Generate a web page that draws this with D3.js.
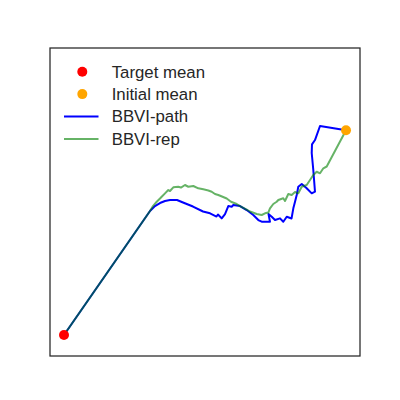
<!DOCTYPE html>
<html>
<head>
<meta charset="UTF-8">
<title>BBVI paths</title>
<style>
  body { margin: 0; background: #fff; }
  svg { display: block; }
  .legend text { font-family: "Liberation Sans", Arial, sans-serif; font-size: 16.8px; fill: #262626; }
</style>
</head>
<body>
<svg width="400" height="400"></svg>
<script src="https://d3js.org/d3.v7.min.js"></script>
<script>
// means
var targetMean = [0, 0];
var initialMean = [5.0, 3.63];

// BBVI-path, from the target back to the initial mean
var pathX = [0, 1.525, 1.613, 1.702, 1.791, 1.879, 2.004, 2.110, 2.287, 2.465, 2.589, 2.704, 2.730, 2.796, 2.855,
  2.913, 2.973, 3.002, 3.062, 3.121, 3.239, 3.356, 3.445, 3.505, 3.652, 3.626, 3.683, 3.741, 3.830, 3.888,
  3.949, 4.034, 4.066, 4.096, 4.126, 4.154, 4.215, 4.303, 4.392, 4.450, 4.420, 4.392, 4.397, 4.450, 4.539, 5.0];
var pathY = [0, 2.199, 2.287, 2.340, 2.376, 2.394, 2.394, 2.349, 2.278, 2.190, 2.158, 2.101, 2.137, 2.069, 2.145,
  2.287, 2.275, 2.305, 2.296, 2.287, 2.216, 2.128, 2.039, 2.009, 2.009, 2.145, 2.098, 2.039, 2.069, 2.009,
  2.098, 2.066, 2.246, 2.363, 2.482, 2.629, 2.677, 2.601, 2.512, 2.541, 2.926, 3.227, 3.381, 3.457, 3.706, 3.63];

// BBVI-rep
var repX = [0, 1.525, 1.578, 1.644, 1.702, 1.732, 1.791, 1.849, 1.879, 1.938, 2.027, 2.074, 2.145, 2.204, 2.293,
  2.381, 2.470, 2.559, 2.619, 2.677, 2.736, 2.801, 2.885, 2.961, 3.062, 3.121, 3.239, 3.298,
  3.417, 3.505, 3.564, 3.622, 3.652, 3.711, 3.771, 3.800, 3.888, 3.918, 3.977, 4.037, 4.096, 4.154, 4.215,
  4.303, 4.362, 4.420, 4.480, 4.539, 4.598, 4.658, 5.0];
var repY = [0, 2.199, 2.287, 2.363, 2.420, 2.452, 2.512, 2.571, 2.553, 2.619, 2.629, 2.615, 2.660, 2.629, 2.642,
  2.601, 2.583, 2.562, 2.541, 2.500, 2.482, 2.456, 2.420, 2.363, 2.323, 2.287, 2.225, 2.190,
  2.145, 2.128, 2.158, 2.172, 2.246, 2.323, 2.363, 2.394, 2.424, 2.376, 2.500, 2.482, 2.535, 2.512, 2.629,
  2.660, 2.748, 2.837, 2.895, 2.867, 2.956, 2.988, 3.63];

var legendLabels = ["Target mean", "Initial mean", "BBVI-path", "BBVI-rep"];

var svg = d3.select("svg");
var axLeft = 50, axRight = 360, axTop = 48, axBottom = 356;

var x = d3.scaleLinear().domain([-0.248, 5.248]).range([axLeft, axRight]);
var y = d3.scaleLinear().domain([-0.372, 5.089]).range([axBottom, axTop]);

var line = d3.line()
  .x(function(d) { return x(d[0]); })
  .y(function(d) { return y(d[1]); });

var pathData = d3.zip(pathX, pathY);
var repData = d3.zip(repX, repY);

svg.append("path")
  .datum(pathData)
  .attr("d", line)
  .attr("fill", "none")
  .attr("stroke", "blue")
  .attr("stroke-width", 2)
  .attr("stroke-linejoin", "round");

svg.append("path")
  .datum(repData)
  .attr("d", line)
  .attr("fill", "none")
  .attr("stroke", "green")
  .attr("stroke-opacity", 0.6)
  .attr("stroke-width", 2)
  .attr("stroke-linejoin", "round");

svg.append("circle")
  .attr("cx", x(targetMean[0])).attr("cy", y(targetMean[1]))
  .attr("r", 5).attr("fill", "red");
svg.append("circle")
  .attr("cx", x(initialMean[0])).attr("cy", y(initialMean[1]))
  .attr("r", 5).attr("fill", "orange");

// frame
svg.append("rect")
  .attr("x", axLeft).attr("y", axTop)
  .attr("width", axRight - axLeft).attr("height", axBottom - axTop)
  .attr("fill", "none")
  .attr("stroke", "#262626")
  .attr("stroke-width", 1.25);

// legend
var lg = svg.append("g").attr("class", "legend");
var rows = lg.selectAll("g").data(legendLabels).enter().append("g")
  .attr("transform", function(d, i) { return "translate(0," + (71.7 + i * 22.4) + ")"; });

rows.each(function(d, i) {
  var r = d3.select(this);
  if (i < 2) {
    r.append("circle").attr("cx", 82.3).attr("cy", 0).attr("r", 5)
      .attr("fill", i == 0 ? "red" : "orange");
  } else {
    r.append("line").attr("x1", 64).attr("x2", 98.5).attr("y1", 0).attr("y2", 0)
      .attr("stroke", i == 2 ? "blue" : "green")
      .attr("stroke-opacity", i == 2 ? 1 : 0.6)
      .attr("stroke-width", 2);
  }
  r.append("text").attr("x", 111.7).attr("y", 0).attr("dy", "0.35em").text(d);
});
</script>
</body>
</html>
